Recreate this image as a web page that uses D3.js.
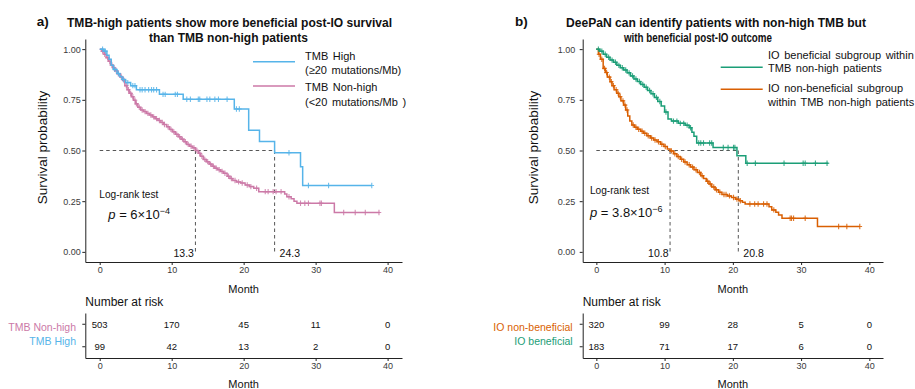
<!DOCTYPE html>
<html>
<head>
<meta charset="utf-8">
<script src="https://cdn.jsdelivr.net/npm/d3@7"></script>
<style>
body { margin: 0; background: #fff; }
svg text { font-family: "Liberation Sans", Arial, sans-serif; }
</style>
</head>
<body>
<svg id="chart" width="915" height="389"></svg>
<script>
var monthTicks = [0, 10, 20, 30, 40];
var survTicks = [0, 0.25, 0.5, 0.75, 1];

// ---- panel a: TMB high vs TMB non-high
var tmbHighSteps = [[0, 1], [0.6, 0.99], [1.0, 0.97], [1.3, 0.95], [1.6, 0.92], [1.9, 0.90], [2.4, 0.88],
	[2.8, 0.865], [3.1, 0.85], [3.6, 0.835], [4.3, 0.82], [5.1, 0.80], [8.3, 0.777], [11.6, 0.753],
	[18.7, 0.705], [20.7, 0.60], [22.2, 0.545], [24.3, 0.489], [27.9, 0.42], [28.2, 0.327]];
var tmbHighEnd = 37.8;
var tmbHighCensor = [0.4, 0.8, 2.1, 2.6, 3.3, 3.9, 4.6, 4.9, 5.6, 5.9, 6.3, 6.8, 7.2, 7.5, 7.9, 8.8, 9.1,
	10.5, 10.8, 12.1, 12.6, 13.7, 13.9, 14.9, 15.3, 16.0, 16.5, 17.7, 19.0, 19.4, 26.3, 29.0, 31.8, 37.8];

var tmbNonHighSteps = [[0, 1], [0.3, 0.99], [0.6, 0.975], [0.9, 0.958], [1.2, 0.94], [1.5, 0.922],
	[1.8, 0.908], [2.1, 0.893], [2.5, 0.878], [2.9, 0.862], [3.2, 0.845], [3.5, 0.82], [3.8, 0.80],
	[4.1, 0.782], [4.4, 0.765], [4.7, 0.748], [5.0, 0.73], [5.3, 0.713], [5.7, 0.70], [6.1, 0.692],
	[6.5, 0.683], [6.9, 0.675], [7.3, 0.666], [7.7, 0.657], [8.1, 0.648], [8.5, 0.638], [8.9, 0.628],
	[9.3, 0.617], [9.7, 0.604], [10.1, 0.592], [10.5, 0.58], [10.9, 0.568], [11.3, 0.556], [11.7, 0.543],
	[12.1, 0.53], [12.5, 0.521], [12.9, 0.513], [13.3, 0.50], [13.7, 0.486], [14.0, 0.472], [14.4, 0.456],
	[14.8, 0.445], [15.2, 0.433], [15.6, 0.422], [16.0, 0.413], [16.4, 0.405], [16.8, 0.397], [17.2, 0.388],
	[17.7, 0.373], [18.1, 0.362], [18.5, 0.352], [19.0, 0.345], [19.6, 0.34], [20.2, 0.33], [20.8, 0.322],
	[21.4, 0.314], [22.1, 0.297], [25.7, 0.285], [26.0, 0.272], [26.6, 0.262], [27.0, 0.25], [27.4, 0.24],
	[32.6, 0.194]];
var tmbNonHighEnd = 38.9;
var tmbNonHighCensor = [0.4, 0.7, 1.1, 1.4, 1.7, 2.0, 2.3, 2.6, 3.0, 3.4, 3.7, 4.0, 4.3, 4.6, 4.9, 5.1,
	5.5, 5.9, 6.3, 6.7, 7.1, 7.5, 7.9, 8.3, 8.7, 9.0, 9.5, 9.9, 10.3, 10.7, 11.1, 11.5, 11.9, 12.3, 12.7,
	13.1, 13.5, 13.9, 14.2, 14.6, 15.0, 15.4, 15.8, 16.2, 16.6, 17.0, 17.4, 17.9, 18.3, 18.8, 19.3, 19.8,
	20.5, 21.0, 21.8, 23.0, 23.4, 24.1, 24.5, 25.2, 26.3, 27.9, 28.5, 29.0, 30.6, 30.8, 33.9, 35.5, 36.9,
	38.8];

var riskTmbNonHigh = [503, 170, 45, 11, 0];
var riskTmbHigh = [99, 42, 13, 2, 0];
var mediansA = [13.3, 24.3];

// ---- panel b: DeePaN subgroups within TMB non-high
var ioBenSteps = [[0, 1], [0.5, 0.99], [1.0, 0.975], [1.5, 0.96], [2.0, 0.946], [2.5, 0.935], [3.0, 0.92],
	[3.5, 0.908], [4.0, 0.897], [4.5, 0.883], [5.0, 0.868], [5.5, 0.853], [6.0, 0.84], [6.5, 0.826],
	[7.0, 0.812], [7.5, 0.796], [8.0, 0.78], [8.5, 0.762], [9.0, 0.742], [9.5, 0.72], [10.0, 0.69],
	[10.5, 0.655], [11.0, 0.645], [12.0, 0.634], [13.0, 0.625], [13.6, 0.612], [14.0, 0.59], [14.3, 0.57],
	[14.7, 0.537], [17.1, 0.515], [20.6, 0.474], [21.9, 0.437]];
var ioBenEnd = 34.0;
var ioBenCensor = [0.3, 0.8, 1.3, 1.8, 2.3, 2.8, 3.3, 3.8, 4.3, 4.8, 5.3, 5.8, 6.3, 6.8, 7.3, 7.8, 8.3,
	8.8, 9.3, 10.2, 11.3, 11.8, 12.3, 12.8, 13.3, 13.8, 15.0, 15.3, 15.7, 16.6, 16.9, 18.6, 19.3, 20.1,
	20.3, 22.1, 23.3, 27.5, 30.3, 30.6, 32.1, 33.8];

var ioNonBenSteps = [[0, 1], [0.3, 0.975], [0.6, 0.95], [1.0, 0.905], [1.3, 0.885], [1.6, 0.862],
	[2.0, 0.839], [2.3, 0.82], [2.6, 0.80], [3.0, 0.782], [3.3, 0.765], [3.6, 0.745], [4.0, 0.724],
	[4.3, 0.70], [4.6, 0.67], [4.9, 0.645], [5.2, 0.626], [5.6, 0.615], [6.0, 0.605], [6.5, 0.595],
	[6.9, 0.585], [7.4, 0.573], [7.9, 0.562], [8.4, 0.552], [8.9, 0.543], [9.4, 0.531], [9.9, 0.52],
	[10.4, 0.507], [10.8, 0.498], [11.3, 0.484], [11.8, 0.47], [12.3, 0.457], [12.8, 0.443], [13.3, 0.43],
	[13.8, 0.418], [14.3, 0.405], [14.8, 0.392], [15.3, 0.376], [15.7, 0.362], [16.1, 0.348], [16.5, 0.335],
	[16.9, 0.32], [17.4, 0.306], [17.9, 0.294], [18.4, 0.283], [19.2, 0.276], [19.8, 0.268], [20.4, 0.26],
	[20.9, 0.252], [21.4, 0.245], [21.8, 0.236], [25.3, 0.222], [25.7, 0.207], [26.3, 0.195], [26.7, 0.182],
	[27.2, 0.166], [32.4, 0.125]];
var ioNonBenEnd = 38.6;
var ioNonBenCensor = [0.4, 0.8, 1.2, 1.5, 1.9, 2.2, 2.5, 2.9, 3.2, 3.5, 3.9, 4.2, 4.5, 5.4, 5.8, 6.2,
	6.7, 7.1, 7.6, 8.1, 8.6, 9.1, 9.6, 10.1, 11.0, 11.5, 12.0, 12.5, 13.0, 13.6, 14.1, 14.6, 15.1, 15.5,
	16.3, 16.7, 17.2, 17.6, 18.1, 18.7, 19.0, 19.5, 20.1, 20.6, 21.1, 22.5, 23.2, 23.7, 24.5, 25.0, 26.0,
	28.4, 28.6, 28.9, 30.6, 35.5, 36.7, 38.6];

var riskIoNonBen = [320, 99, 28, 5, 0];
var riskIoBen = [183, 71, 17, 6, 0];
var mediansB = [10.8, 20.8];

var BLUE = "#56B4E9", PINK = "#CC79A7", GREEN = "#1B9E77", ORANGE = "#D95F02";
var CAL = "Lato, 'Open Sans', sans-serif";

var svg = d3.select("#chart");

var survAt = function(steps, t) {
	var s = steps[0][1];
	steps.forEach(function(st) { if (st[0] <= t) { s = st[1]; } });
	return s;
};

var styleAxis = function(sel) {
	sel.attr("font-size", 9).attr("font-family", "'Liberation Sans', Arial, sans-serif").attr("color", "#222");
	sel.selectAll("text").attr("fill", "#3a3a3a");
};

function drawPanel(p) {
	var g = svg.append("g").attr("class", "panel");
	var x = d3.scaleLinear().domain([-2, 42]).range([p.left, p.right]);
	var y = d3.scaleLinear().domain([-0.05, 1.05]).range([262, 39]);

	g.append("g")
		.attr("transform", "translate(" + p.left + ",0)")
		.call(d3.axisLeft(y).tickValues(survTicks).tickFormat(d3.format(".2f"))
			.tickSize(3).tickSizeOuter(0).tickPadding(p.yPad))
		.call(styleAxis);

	g.append("g")
		.attr("transform", "translate(0,262)")
		.call(d3.axisBottom(x).tickValues(monthTicks).tickSize(3).tickSizeOuter(0).tickPadding(2))
		.call(styleAxis);

	g.append("text")
		.attr("transform", "translate(" + p.ylabX + ",147.5) rotate(-90)")
		.attr("text-anchor", "middle").attr("dy", "0.35em")
		.attr("font-size", 13.5).attr("fill", "#111")
		.text("Survival probability");

	g.append("text")
		.attr("x", (p.left + p.right) / 2).attr("y", 293)
		.attr("text-anchor", "middle").attr("font-size", 11).attr("fill", "#111")
		.text("Month");

	// median guides
	var dash = "3.5,3";
	var maxMed = d3.max(p.medians);
	g.append("line")
		.attr("x1", x(0)).attr("x2", x(maxMed)).attr("y1", y(0.5)).attr("y2", y(0.5))
		.attr("stroke", "#444").attr("stroke-width", 0.9).attr("stroke-dasharray", dash);
	g.selectAll("line.med").data(p.medians).enter().append("line")
		.attr("class", "med")
		.attr("x1", function(d) { return x(d); }).attr("x2", function(d) { return x(d); })
		.attr("y1", y(0.5)).attr("y2", y(0) + 2)
		.attr("stroke", "#444").attr("stroke-width", 0.9).attr("stroke-dasharray", dash);
	g.selectAll("text.med").data(p.medians).enter().append("text")
		.attr("class", "med")
		.attr("x", function(d, i) { return i === 0 ? x(d) - 1.5 : x(d) + 5; })
		.attr("y", 256.5)
		.attr("text-anchor", function(d, i) { return i === 0 ? "end" : "start"; })
		.attr("font-size", 10.5).attr("fill", "#111")
		.text(function(d) { return d.toFixed(1); });

	// curves
	var line = d3.line()
		.x(function(d) { return x(d[0]); })
		.y(function(d) { return y(d[1]); })
		.curve(d3.curveStepAfter);

	p.curves.forEach(function(c) {
		var pts = c.steps.concat([[c.end, c.steps[c.steps.length - 1][1]]]);
		g.append("path").datum(pts)
			.attr("d", line)
			.attr("fill", "none").attr("stroke", c.color).attr("stroke-width", 1.5);
		g.append("g").selectAll("path").data(c.censor).enter().append("path")
			.attr("transform", function(t) { return "translate(" + x(t) + "," + y(survAt(c.steps, t)) + ")"; })
			.attr("d", "M-2.3,0H2.3M0,-2.7V2.7")
			.attr("stroke", c.color).attr("stroke-width", 1.1).attr("opacity", 0.85);
	});

	// legend
	p.legend.forEach(function(L) {
		g.append("line")
			.attr("x1", p.legX1).attr("x2", p.legX2).attr("y1", L.lineY).attr("y2", L.lineY)
			.attr("stroke", L.color).attr("stroke-width", 1.6);
		L.lines.forEach(function(t, i) {
			g.append("text")
				.attr("x", p.legTextX).attr("y", L.textY[i]).attr("dy", "0.35em")
				.attr("font-size", 11).attr("fill", "#111").attr("word-spacing", 1.5)
				.text(t);
		});
	});

	// log-rank annotation
	g.append("text")
		.attr("x", p.logX).attr("y", p.logY)
		.attr("font-family", CAL).attr("font-size", 11.5).attr("fill", "#111")
		.attr("textLength", 59).attr("lengthAdjust", "spacingAndGlyphs")
		.text("Log-rank test");
	var pv = g.append("text")
		.attr("x", p.pX).attr("y", p.pY)
		.attr("font-family", "'Liberation Serif', 'DejaVu Serif', serif").attr("font-size", 13).attr("fill", "#111");
	pv.append("tspan").attr("font-style", "italic").text("p");
	pv.append("tspan").text(" = " + p.pMant + "×10");
	pv.append("tspan").attr("font-size", 9).attr("dy", -5).text("−" + p.pExp);

	// titles
	g.append("text")
		.attr("x", p.tagX).attr("y", 26)
		.attr("font-weight", "bold").attr("font-size", 13.5).attr("fill", "#111")
		.text(p.tag);
	p.title.forEach(function(t) {
		g.append("text")
			.attr("x", t.x).attr("y", t.y)
			.attr("font-family", CAL).attr("font-weight", "bold").attr("font-size", t.size).attr("fill", "#111")
			.attr("textLength", t.w).attr("lengthAdjust", "spacingAndGlyphs")
			.text(t.text);
	});

	// number at risk table
	g.append("text")
		.attr("x", p.left).attr("y", 305.5)
		.attr("font-size", 12).attr("fill", "#111")
		.text("Number at risk");

	var ry = d3.scaleBand().domain(d3.range(p.risk.length)).range([313, 358]);

	g.append("g")
		.attr("transform", "translate(" + p.left + ",0)")
		.call(d3.axisLeft(ry).tickSize(3).tickSizeOuter(0).tickFormat(""))
		.call(styleAxis);

	g.append("g")
		.attr("transform", "translate(0,358)")
		.call(d3.axisBottom(x).tickValues(monthTicks).tickSize(3).tickSizeOuter(0).tickPadding(2))
		.call(styleAxis);

	g.append("text")
		.attr("x", (p.left + p.right) / 2).attr("y", 387.5)
		.attr("text-anchor", "middle").attr("font-size", 11).attr("fill", "#111")
		.text("Month");

	p.risk.forEach(function(r, i) {
		var cy = ry(i) + ry.bandwidth() / 2;
		g.selectAll("text.risk" + i).data(r.values).enter().append("text")
			.attr("class", "risk" + i)
			.attr("x", function(d, j) { return x(monthTicks[j]); })
			.attr("y", cy).attr("dy", "0.35em")
			.attr("text-anchor", "middle").attr("font-size", 9.5).attr("fill", "#111")
			.text(function(d) { return d; });
		g.append("text")
			.attr("x", p.riskLabX).attr("y", cy + r.labDy).attr("dy", "0.35em")
			.attr("text-anchor", "end")
			.attr("font-family", CAL).attr("font-size", 10.5).attr("fill", r.color)
			.text(r.label);
	});
}

drawPanel({
	left: 85.3, right: 402, yPad: 1.5, ylabX: 42,
	medians: mediansA,
	curves: [
		{ steps: tmbNonHighSteps, end: tmbNonHighEnd, censor: tmbNonHighCensor, color: PINK },
		{ steps: tmbHighSteps, end: tmbHighEnd, censor: tmbHighCensor, color: BLUE }
	],
	legX1: 253, legX2: 295, legTextX: 305,
	legend: [
		{ color: BLUE, lineY: 61.7, lines: ["TMB High", "(≥20 mutations/Mb)"], textY: [55.7, 70] },
		{ color: PINK, lineY: 86, lines: ["TMB Non-high", "(<20 mutations/Mb  )"], textY: [87.3, 101.7] }
	],
	logX: 99.3, logY: 198, pX: 108.3, pY: 219, pMant: "6", pExp: "4",
	tag: "a)", tagX: 36.7,
	title: [
		{ text: "TMB-high patients show more beneficial post-IO  survival", x: 67, y: 26.5, w: 325, size: 13.5 },
		{ text: "than TMB non-high patients", x: 149, y: 41.5, w: 159, size: 13.5 }
	],
	risk: [
		{ values: riskTmbNonHigh, label: "TMB Non-high", color: PINK, labDy: 3 },
		{ values: riskTmbHigh, label: "TMB High", color: BLUE, labDy: -5.5 }
	],
	riskLabX: 76
});

drawPanel({
	left: 582.7, right: 883, yPad: 4.5, ylabX: 533,
	medians: mediansB,
	curves: [
		{ steps: ioNonBenSteps, end: ioNonBenEnd, censor: ioNonBenCensor, color: ORANGE },
		{ steps: ioBenSteps, end: ioBenEnd, censor: ioBenCensor, color: GREEN }
	],
	legX1: 720.7, legX2: 762.7, legTextX: 768,
	legend: [
		{ color: GREEN, lineY: 67.3, lines: ["IO beneficial  subgroup within", "TMB non-high  patients"], textY: [55, 67.7] },
		{ color: ORANGE, lineY: 89.3, lines: ["IO non-beneficial  subgroup", "within TMB non-high  patients"], textY: [87.7, 101.7] }
	],
	logX: 590, logY: 194, pX: 590, pY: 216.5, pMant: "3.8", pExp: "6",
	tag: "b)", tagX: 515,
	title: [
		{ text: "DeePaN can identify patients with non-high TMB but", x: 566, y: 26.5, w: 300, size: 13.5 },
		{ text: "with beneficial post-IO outcome", x: 624, y: 41.5, w: 148, size: 12.5 }
	],
	risk: [
		{ values: riskIoNonBen, label: "IO non-beneficial", color: ORANGE, labDy: 3 },
		{ values: riskIoBen, label: "IO beneficial", color: GREEN, labDy: -5.5 }
	],
	riskLabX: 572.7
});
</script>
</body>
</html>
